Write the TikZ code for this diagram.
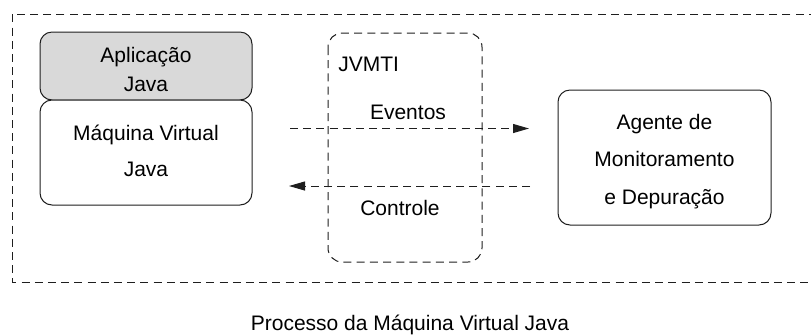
\documentclass[tikz,border=0pt]{standalone}
\usepackage{fontspec}
\setmainfont{Liberation Sans}
\usetikzlibrary{arrows.meta}
\definecolor{appgray}{RGB}{217,217,217}
\definecolor{inkline}{RGB}{30,30,30}
\tikzset{
  lbl/.style={inner sep=0pt, anchor=base, font=\fontsize{10.5}{12}\selectfont},
  solidbox/.style={draw=inkline, line width=0.5pt, rounded corners=6pt},
  dashline/.style={draw=inkline, line width=0.5pt, dash pattern=on 4pt off 2.6pt},
  flow/.style={dashline, -{Stealth[length=8pt, width=4.5pt, inset=0pt]}}
}
\begin{document}
\begin{tikzpicture}[x=0.5pt, y=-0.5pt]
\useasboundingbox (0,0) rectangle (811,334);

% process boundary (open towards the right)
\draw[dashline] (830,14) -- (12,14) -- (12,282) -- (830,282);

% JVM with the application on top
\draw[solidbox, fill=appgray] (40,100) rectangle (252,32);
\draw[solidbox, fill=white] (40,100) rectangle (252,205);
\coordinate (jvmE) at (252,128);
\node[lbl] (app1) at (146,62.7) {Aplicação};
\node[lbl] (app2) at (146,91.7) {Java};
\node[lbl] (jvm1) at (146,140) {Máquina Virtual};
\node[lbl] (jvm2) at (146,176.7) {Java};

% JVMTI interface
\draw[dashline, rounded corners=7pt] (328,33) rectangle (482,262);
\node[lbl, anchor=base west] (jvmti) at (338,71.7) {JVMTI};

% agent
\node[solidbox, minimum width=106.5pt, minimum height=67.5pt] (agent) at (664.5,157.5) {};
\node[lbl] (ag1) at (664.5,129.3) {Agente de};
\node[lbl] (ag2) at (664.5,166.7) {Monitoramento};
\node[lbl] (ag3) at (664.5,204) {e Depuração};

% event and control flows
\coordinate (evS) at (290,128.5);
\coordinate (evE) at (529,128.5);
\coordinate (ctS) at (530,186);
\coordinate (ctE) at (289,186);
\draw[flow] (evS) -- (evE);
\draw[flow] (ctS) -- (ctE);
\node[lbl] (ev) at (408,119) {Eventos};
\node[lbl] (ct) at (400,215) {Controle};

% caption
\node[lbl] (cap) at (410,330) {Processo da Máquina Virtual Java};
\end{tikzpicture}
\end{document}
